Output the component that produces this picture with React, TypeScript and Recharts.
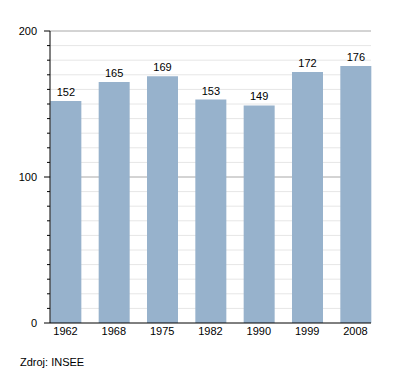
import React from "react";
import { BarChart, Bar, XAxis, YAxis, CartesianGrid, LabelList } from "recharts";

const years = ["1962", "1968", "1975", "1982", "1990", "1999", "2008"];
const population = [152, 165, 169, 153, 149, 172, 176];
const yTicks = [0, 10, 20, 30, 40, 50, 60, 70, 80, 90, 100, 110, 120, 130, 140, 150, 160, 170, 180, 190, 200];
const majorTicks = [0, 100, 200];
const minorGrid = yTicks.filter((v) => v % 100 !== 0);
const majorGrid = [100, 200];
const sourceText = "Zdroj: INSEE";

const data = years.map((y, i) => ({ year: y, value: population[i] }));

const FONT = "'Liberation Sans', Arial, sans-serif";

const YTick = (props: any) => {
  const { y, payload } = props;
  const major = majorTicks.includes(payload.value);
  const axisX = 50;
  return (
    <g>
      <line x1={axisX - (major ? 6 : 3)} x2={axisX} y1={y} y2={y} stroke="#000" strokeWidth={1} />
      {major && (
        <text x={37} y={y} dy={4} textAnchor="end" fontSize={11} fontFamily={FONT} fill="#000">
          {payload.value}
        </text>
      )}
    </g>
  );
};

const XTick = (props: any) => {
  const { x, payload } = props;
  return (
    <text x={x} y={323} dy={12} textAnchor="middle" fontSize={11} fontFamily={FONT} fill="#000">
      {payload.value}
    </text>
  );
};

export default function App() {
  return (
    <div style={{ position: "absolute", left: 0, top: 0, width: 400, height: 373, background: "#fff" }}>
      <BarChart
        width={400}
        height={373}
        data={data}
        margin={{ top: 31, right: 29, bottom: 30, left: 0 }}
        barSize={31}
      >
        <CartesianGrid horizontal vertical={false} horizontalValues={minorGrid} stroke="#e6e6e6" />
        <CartesianGrid horizontal vertical={false} horizontalValues={majorGrid} stroke="#a8a8a8" />
        <XAxis
          dataKey="year"
          height={20}
          padding={{ left: -8.65, right: -8.65 }}
          tickLine={false}
          axisLine={{ stroke: "#000", strokeWidth: 1 }}
          tick={<XTick />}
          interval={0}
        />
        <YAxis
          type="number"
          domain={[0, 200]}
          ticks={yTicks}
          interval={0}
          width={50}
          tickLine={false}
          axisLine={{ stroke: "#000", strokeWidth: 1 }}
          tick={<YTick />}
        />
        <Bar dataKey="value" fill="#97b2cc" isAnimationActive={false}>
          <LabelList
            dataKey="value"
            position="top"
            offset={5}
            style={{ fontSize: 11, fontFamily: FONT, fill: "#000" }}
          />
        </Bar>
      </BarChart>
      <div
        style={{
          position: "absolute",
          left: 20,
          top: 355,
          fontSize: 11,
          fontFamily: FONT,
          color: "#000",
          lineHeight: "14px",
        }}
      >
        {sourceText}
      </div>
    </div>
  );
}
